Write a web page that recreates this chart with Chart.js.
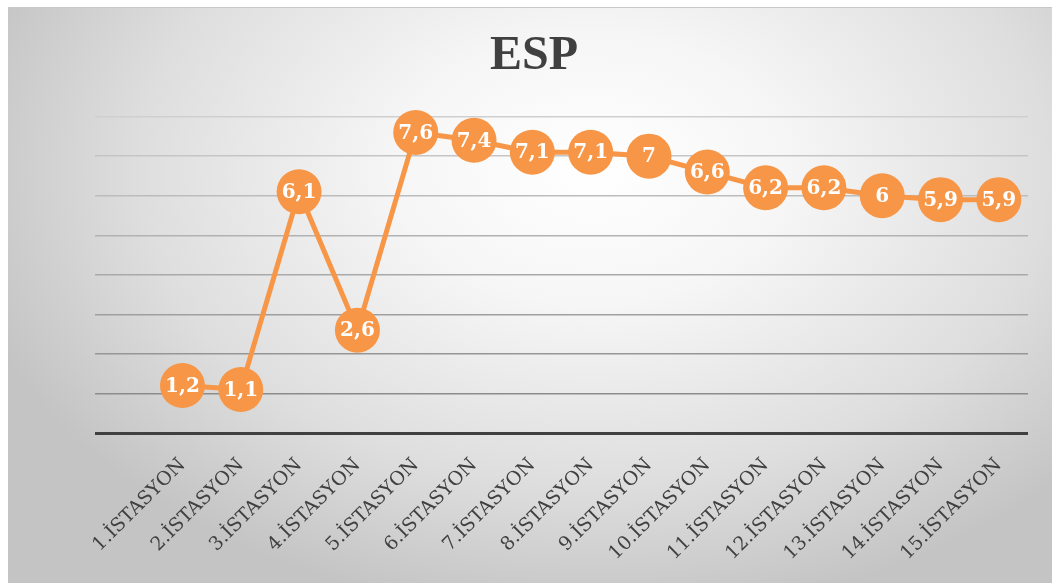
<!DOCTYPE html>
<html>
<head>
<meta charset="utf-8">
<script src="https://cdn.jsdelivr.net/npm/chart.js@4/dist/chart.umd.min.js"></script>
<style>
	html, body { margin: 0; padding: 0; background: #fff; }
	#wrap { position: relative; width: 1052px; height: 583px; }
	#bg {
		position: absolute; left: 8px; top: 7px; width: 1044px; height: 576px;
		border-top: 1px solid #c8c8c8;
		background: radial-gradient(ellipse 62% 78% at 56% 28%, #ffffff 0%, #f6f6f6 30%, #dedede 70%, #c4c4c4 100%);
	}
	canvas { position: absolute; left: 0; top: 0; }
</style>
</head>
<body>
<div id="wrap">
	<div id="bg"></div>
	<canvas id="myChart" width="1052" height="583"></canvas>
</div>
<script>
const categories = ['1.İSTASYON', '2.İSTASYON', '3.İSTASYON', '4.İSTASYON', '5.İSTASYON',
	'6.İSTASYON', '7.İSTASYON', '8.İSTASYON', '9.İSTASYON', '10.İSTASYON',
	'11.İSTASYON', '12.İSTASYON', '13.İSTASYON', '14.İSTASYON', '15.İSTASYON'];
const espValues = [1.2, 1.1, 6.1, 2.6, 7.6, 7.4, 7.1, 7.1, 7, 6.6, 6.2, 6.2, 6, 5.9, 5.9];
const yTicks = [0, 1, 2, 3, 4, 5, 6, 7, 8];

const orange = '#f79646';

// white value labels inside the circles
const valueLabels = {
	id: 'valueLabels',
	afterDatasetsDraw(chart) {
		const ctx = chart.ctx;
		const meta = chart.getDatasetMeta(0);
		ctx.save();
		ctx.fillStyle = '#ffffff';
		ctx.font = 'bold 20px "DejaVu Serif"';
		ctx.textAlign = 'center';
		ctx.textBaseline = 'middle';
		meta.data.forEach((pt, i) => {
			ctx.fillText(String(espValues[i]).replace('.', ','), pt.x, pt.y + 1);
		});
		ctx.restore();
	}
};

new Chart(document.getElementById('myChart'), {
	type: 'line',
	data: {
		datasets: [
			{
				label: 'ESP',
				data: espValues.map((v, i) => ({ x: i, y: v })),
				borderColor: orange,
				borderWidth: 5,
				backgroundColor: orange,
				pointRadius: 22.5,
				pointHoverRadius: 22.5,
				pointBorderWidth: 0,
				tension: 0,
				clip: false
			}
		]
	},
	options: {
		responsive: false,
		animation: false,
		layout: { padding: { left: 40, right: 24, top: 0, bottom: 0 } },
		plugins: {
			legend: { display: false },
			tooltip: { enabled: false },
			title: {
				display: true,
				text: 'ESP',
				color: '#404040',
				font: { family: '"Liberation Serif"', size: 48, weight: 'bold', lineHeight: 1.2 },
				padding: { top: 28, bottom: 31 }
			}
		},
		scales: {
			x: {
				type: 'linear',
				min: -1.5,
				max: 14.5,
				grid: { display: false, drawTicks: false },
				border: { display: false },
				afterBuildTicks(scale) {
					scale.ticks = categories.map((c, i) => ({ value: i }));
				},
				afterFit(scale) { scale.height = 150; },
				ticks: {
					autoSkip: false,
					maxRotation: 45,
					minRotation: 45,
					padding: 21,
					color: '#404040',
					font: { family: '"DejaVu Serif"', size: 19 },
					callback: (v) => categories[v]
				}
			},
			y: {
				min: 0,
				max: 8,
				afterBuildTicks(scale) {
					scale.ticks = yTicks.map((v) => ({ value: v }));
				},
				afterFit(scale) { scale.width = 55; },
				ticks: { display: false },
				border: { display: false },
				grid: {
					drawTicks: false,
					lineWidth: (c) => (c.tick.value === 0 ? 3 : 1.5),
					color: (c) => {
						if (c.tick.value === 0) return '#404040';
						const g = Math.round(0x8c + (0xcf - 0x8c) * (c.tick.value - 1) / 7);
						return `rgb(${g},${g},${g})`;
					}
				}
			}
		}
	},
	plugins: [valueLabels]
});
</script>
</body>
</html>
